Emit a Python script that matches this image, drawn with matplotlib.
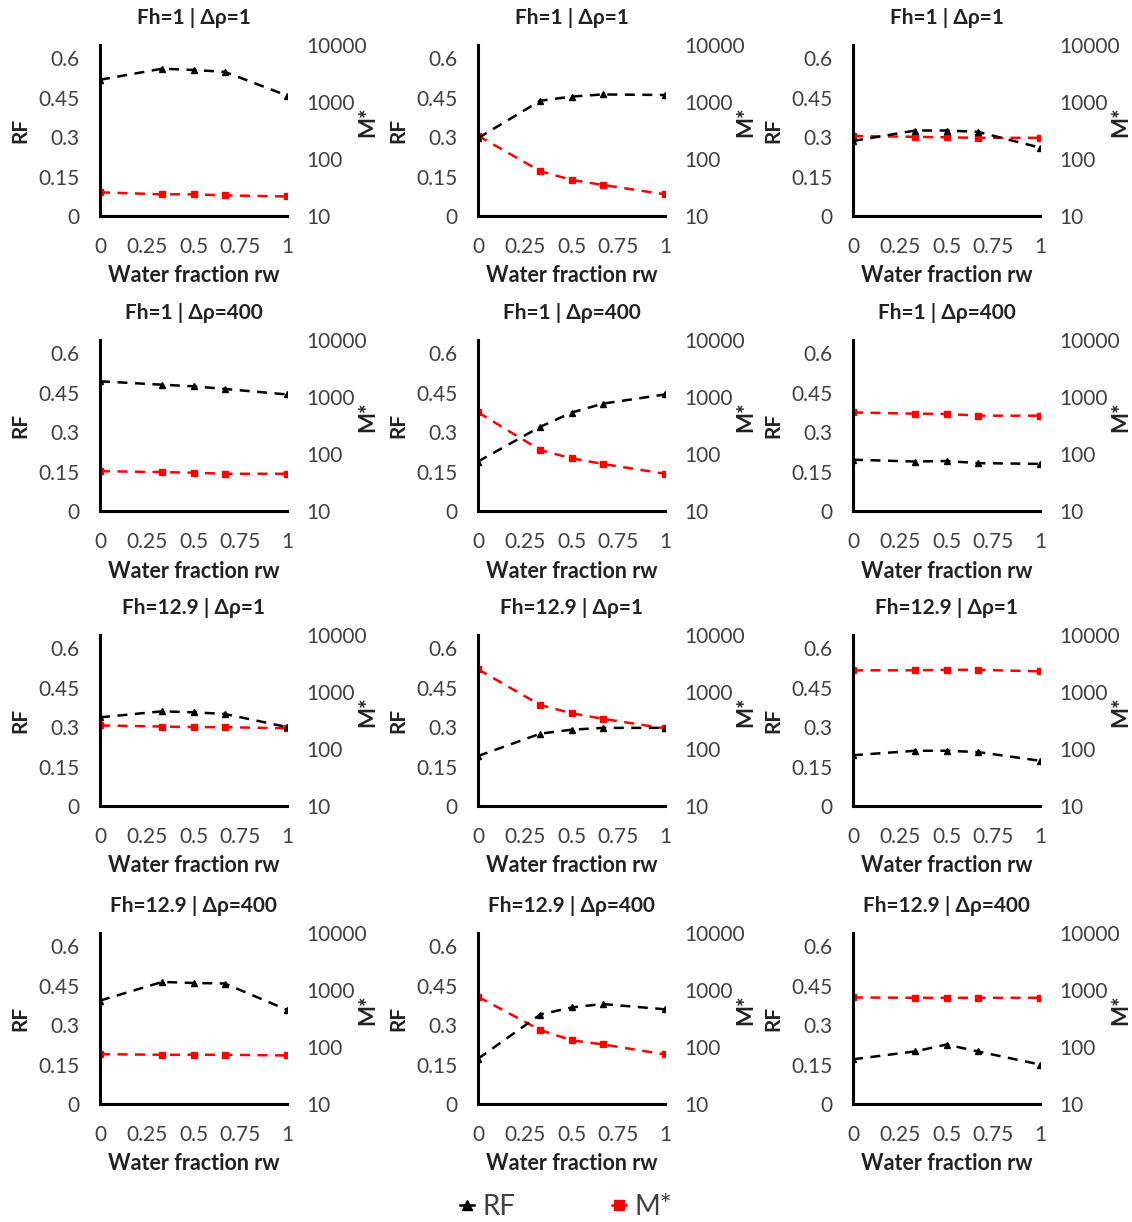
import matplotlib
matplotlib.use("Agg")
from matplotlib import pyplot as plt
from matplotlib.lines import Line2D

plt.rcParams["font.family"] = ["Lato", "DejaVu Sans"]

# water fraction rw
RW = [0, 0.333, 0.5, 0.667, 1]

TITLES = ["Fh=1 | Δρ=1", "Fh=1 | Δρ=1", "Fh=1 | Δρ=1",
          "Fh=1 | Δρ=400", "Fh=1 | Δρ=400", "Fh=1 | Δρ=400",
          "Fh=12.9 | Δρ=1", "Fh=12.9 | Δρ=1", "Fh=12.9 | Δρ=1",
          "Fh=12.9 | Δρ=400", "Fh=12.9 | Δρ=400", "Fh=12.9 | Δρ=400"]

# recovery factor, one list per panel
RF = [
    [0.518, 0.560, 0.555, 0.548, 0.458],
    [0.296, 0.438, 0.454, 0.462, 0.460],
    [0.285, 0.325, 0.325, 0.320, 0.260],
    [0.493, 0.480, 0.474, 0.464, 0.443],
    [0.188, 0.320, 0.374, 0.408, 0.443],
    [0.195, 0.188, 0.190, 0.182, 0.179],
    [0.337, 0.360, 0.356, 0.350, 0.300],
    [0.190, 0.275, 0.290, 0.297, 0.297],
    [0.193, 0.210, 0.210, 0.205, 0.172],
    [0.393, 0.464, 0.460, 0.458, 0.358],
    [0.172, 0.340, 0.367, 0.380, 0.360],
    [0.170, 0.200, 0.226, 0.200, 0.150],
]

# mobility ratio M*, one list per panel
MSTAR = [
    [26, 24, 24, 23, 22],
    [256, 61, 43, 35, 24],
    [253, 245, 240, 235, 235],
    [50, 48, 47, 45, 45],
    [537, 117, 84, 67, 45],
    [537, 510, 505, 470, 470],
    [259, 248, 242, 242, 230],
    [2500, 590, 424, 339, 230],
    [2400, 2400, 2450, 2450, 2300],
    [75, 73, 73, 73, 71],
    [760, 198, 131, 111, 74],
    [740, 730, 730, 730, 730],
]

W, H = 1132, 1222
COL_X = [100, 478, 853]
ROW_TOP = [45, 340, 635, 933]
AX_W, AX_H = 187, 171
GREY = "#404040"


def draw_panel(fig, left, top, title, rf, mstar):
    ax = fig.add_axes([left / W, 1 - (top + AX_H) / H, AX_W / W, AX_H / H])
    ax2 = ax.twinx()

    ax.plot(RW, rf, ls="--", color="black", lw=1.8, marker="^", ms=5,
            dashes=(4, 3), zorder=3)
    ax2.plot(RW, mstar, ls="--", color="#ff0000", lw=1.8, marker="s", ms=5,
             dashes=(4, 3))

    ax.set_xlim(0, 1)
    ax.set_ylim(0, 0.65)
    ax.set_xticks([0, 0.25, 0.5, 0.75, 1])
    ax.set_xticklabels(["0", "0.25", "0.5", "0.75", "1"])
    ax.set_yticks([0, 0.15, 0.3, 0.45, 0.6])
    ax.set_yticklabels(["0", "0.15", "0.3", "0.45", "0.6"])
    ax2.set_yscale("log")
    ax2.set_ylim(10, 10000)
    ax2.set_yticks([10, 100, 1000, 10000])
    ax2.set_yticklabels(["10", "100", "1000", "10000"])
    ax2.minorticks_off()

    for a in (ax, ax2):
        for s in ("top", "right", "left", "bottom"):
            a.spines[s].set_visible(False)
    ax.spines["left"].set_visible(True)
    ax.spines["bottom"].set_visible(True)
    ax.spines["left"].set_linewidth(2.2)
    ax.spines["bottom"].set_linewidth(2.2)
    ax.set_zorder(ax2.get_zorder() + 1)
    ax.patch.set_visible(False)

    ax.tick_params(axis="both", length=0, labelsize=15, labelcolor=GREY)
    ax.tick_params(axis="y", pad=15)
    ax.tick_params(axis="x", pad=15)
    ax2.tick_params(axis="y", length=0, labelsize=15, labelcolor=GREY, pad=14)

    ax.text(0.5, 1 + 27 / AX_H, title, transform=ax.transAxes, ha="center",
            va="center", fontsize=15, fontweight="bold", color="#222222")
    ax.text(0.5, -60 / AX_H, "Water fraction rw", transform=ax.transAxes,
            ha="center", va="center", fontsize=15.5, fontweight="bold",
            color="#222222")
    ax.text(-80 / AX_W, 0.5, "RF", transform=ax.transAxes, rotation=90,
            ha="center", va="center", fontsize=15, fontweight="bold",
            color="#222222")
    ax.text(268 / AX_W, 0.55, "M*", transform=ax.transAxes, rotation=90,
            ha="center", va="center", fontsize=16, fontweight="bold",
            color="#222222")


def main():
    fig = plt.figure(figsize=(W / 100, H / 100), dpi=100)
    for i in range(12):
        r, c = divmod(i, 3)
        draw_panel(fig, COL_X[c], ROW_TOP[r], TITLES[i], RF[i], MSTAR[i])

    handles = [
        Line2D([], [], color="black", marker="^", ms=7, lw=1.8),
        Line2D([], [], color="#ff0000", marker="s", ms=7, lw=1.8),
    ]
    fig.legend(handles, ["RF", "M*"], loc="center", bbox_to_anchor=(0.5, 1 - 1207 / H),
               ncol=2, frameon=False, fontsize=20, handlelength=0.5,
               columnspacing=3.5, handletextpad=0.3, labelcolor=GREY)
    fig.savefig("out.png", dpi=100)


if __name__ == "__main__":
    main()
